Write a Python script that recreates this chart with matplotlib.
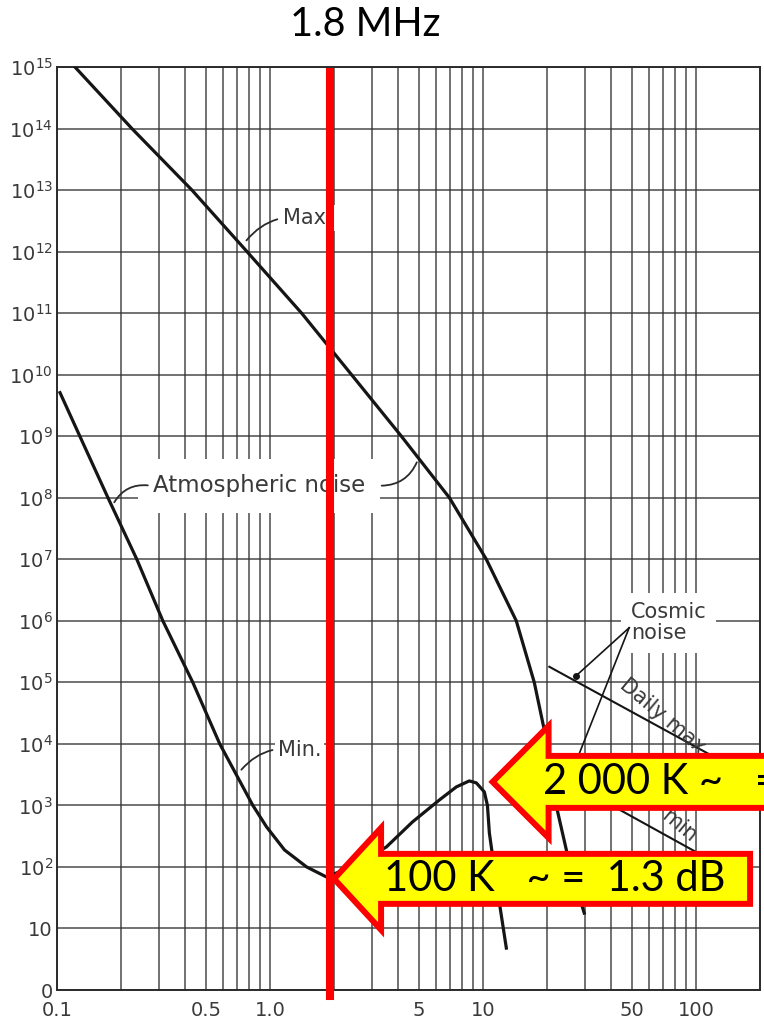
''' Atmospheric / cosmic noise temperature vs frequency, with 1.8 MHz marker '''
import numpy as np
import matplotlib.pyplot as plt
import matplotlib.transforms as mtransforms
from matplotlib.patches import Polygon

# frequency in MHz, noise temperature in K
max_f = [0.1214, 0.2247, 0.43, 0.78, 1.408, 2.415, 4.14, 6.96, 10.37, 14.34, 17.42, 20.04, 22.08, 25.7, 29.9]
max_T = [1e15, 1e14, 1e13, 1e12, 1e11, 1e10, 1e9, 1e8, 1e7, 1e6, 1e5, 1e4, 1e3, 1e2, 17.8]

min_f = [0.1033, 0.128, 0.1735, 0.237, 0.314, 0.434, 0.581, 0.831, 0.964, 1.17, 1.486, 1.84,
         2.49, 3.52, 4.67, 6.25, 7.50, 8.63, 9.31, 10.15, 10.5, 10.72, 11.56, 12.88]
min_T = [5.1e9, 1e9, 1e8, 1e7, 1e6, 1e5, 1e4, 1e3, 447, 189, 100, 68.8,
         104, 211, 539, 1228, 1997, 2500, 2322, 1660, 1000, 357, 55, 4.8]

cosmic_max_f = [20.5, 200.0]
cosmic_max_T = [1.79e5, 2.4e3]
cosmic_min_f = [20.5, 100.1]
cosmic_min_T = [3640, 175]

marker_f = 1.92
ytick_vals = [10.0 ** k for k in range(16)]
ytick_lbls = ['0', '10'] + [r'$10^{%d}$' % k for k in range(2, 16)]
grid_f = [m * 10.0 ** k for k in (-1, 0, 1) for m in range(1, 10)] + [100.0]
xtick_lbls = {0.1: '0.1', 0.5: '0.5', 1.0: '1.0', 5.0: '5', 10.0: '10', 50.0: '50', 100.0: '100'}

ink = '#151515'
gray_txt = '#3a3a3a'

fig = plt.figure(figsize=(7.64, 10.19), dpi=100)
ax = fig.add_axes([57 / 764, 29 / 1019, 703 / 764, 923 / 1019])
ax.set_xscale('log')
ax.set_yscale('log')
ax.set_xlim(0.1, 200)
ax.set_ylim(1, 1e15)

# grid of the scanned log paper
ax.set_xticks(grid_f)
ax.set_xticklabels([xtick_lbls.get(round(f, 3), '') for f in grid_f], fontsize=14, color=gray_txt)
ax.xaxis.set_minor_locator(plt.NullLocator())
ax.set_yticks(ytick_vals)
ax.set_yticklabels(ytick_lbls, fontsize=14, color=gray_txt)
ax.yaxis.set_minor_locator(plt.NullLocator())
ax.tick_params(length=0, pad=3)
ax.tick_params(axis='x', pad=8)
ax.grid(True, color='#333333', lw=1.15, alpha=0.85, zorder=1)
for s in ax.spines.values():
    s.set_color('#2a2a2a')
    s.set_linewidth(1.4)

# curves
ax.plot(max_f, max_T, color=ink, lw=2.3, zorder=3)
ax.plot(min_f, min_T, color=ink, lw=2.3, zorder=3)
ax.plot(cosmic_max_f, cosmic_max_T, color=ink, lw=1.5, zorder=3)
ax.plot(cosmic_min_f, cosmic_min_T, color=ink, lw=1.5, zorder=3)

lead = dict(arrowstyle='-', color='#2a2a2a', lw=1.3)
ax.annotate('Max.', xy=(0.761, 1.4e12), xytext=(1.148, 3.5e12), fontsize=15, color=gray_txt,
            va='center', ha='left', zorder=2.5, bbox=dict(fc='white', ec='none', pad=2),
            arrowprops=dict(lead, connectionstyle='arc3,rad=0.3'))
ax.annotate('Min.', xy=(0.72, 3510), xytext=(1.09, 7980), fontsize=15, color=gray_txt,
            va='center', ha='left', zorder=2.5, bbox=dict(fc='white', ec='none', pad=2),
            arrowprops=dict(lead, connectionstyle='arc3,rad=0.3'))
ax.text(0.282, 1.57e8, 'Atmospheric noise', fontsize=16.5, color=gray_txt, va='center', ha='left',
        zorder=2.2, bbox=dict(fc='white', ec='none', pad=11))
ax.annotate('', xy=(0.183, 7.7e7), xytext=(0.275, 1.57e8), zorder=3,
            arrowprops=dict(lead, connectionstyle='arc3,rad=0.35'))
ax.annotate('', xy=(4.95, 4.15e8), xytext=(3.25, 1.57e8), zorder=3,
            arrowprops=dict(lead, connectionstyle='arc3,rad=0.35'))
ax.text(49.5, 9.3e5, 'Cosmic\nnoise', fontsize=15, color=gray_txt, va='center', ha='left',
        linespacing=1.05, zorder=2.2, bbox=dict(fc='white', ec='none', pad=7))
ax.plot([48.6, 27.4], [7.7e5, 1.28e5], color=ink, lw=1.2, zorder=3)
ax.plot([27.4], [1.28e5], 'o', color=ink, ms=4, zorder=3)
ax.plot([48.6, 25.1], [7.7e5, 2410], color=ink, lw=1.2, zorder=3)
ax.text(69.4, 2.85e4, 'Daily max', fontsize=15, color=gray_txt, rotation=-40, ha='center', va='center',
        zorder=3)
ax.text(83.4, 464, 'min', fontsize=15, color=gray_txt, rotation=-40, ha='center', va='center', zorder=3)

# 1.8 MHz marker
ax.axvline(marker_f, ymin=-0.006, ymax=0.9946, color='#ff0000', lw=5.8, zorder=5.5, clip_on=False)
fig.text(365 / 764, 1 - 24 / 1019, '1.8 MHz', fontsize=28.5, family='Lato', ha='center', va='center')


def callout(tip_f, tip_T, head_len, head_half, body_half, body_len, label, text_dx):
    x0, y0 = ax.transData.transform((tip_f, tip_T))
    pts = [(0, 0), (head_len, head_half), (head_len, body_half), (body_len, body_half),
           (body_len, -body_half), (head_len, -body_half), (head_len, -head_half)]
    poly = Polygon([(x0 + dx, y0 + dy) for dx, dy in pts], closed=True,
                   transform=mtransforms.IdentityTransform(), fc='#ffff00', ec='#ff0000',
                   lw=4.3, joinstyle='miter', zorder=6, clip_on=False)
    ax.add_patch(poly)
    ax.text(x0 + text_dx, y0, label, transform=mtransforms.IdentityTransform(),
            fontsize=30, family='Lato', ha='left', va='center', zorder=7, clip_on=False)


callout(11.1, 2410, 56, 56, 26, 330, '2 000 K ~   =', 50)
callout(2.0, 64, 47, 51, 25, 416, '100 K   ~ =  1.3 dB', 50)

fig.savefig('out.png', dpi=100)
